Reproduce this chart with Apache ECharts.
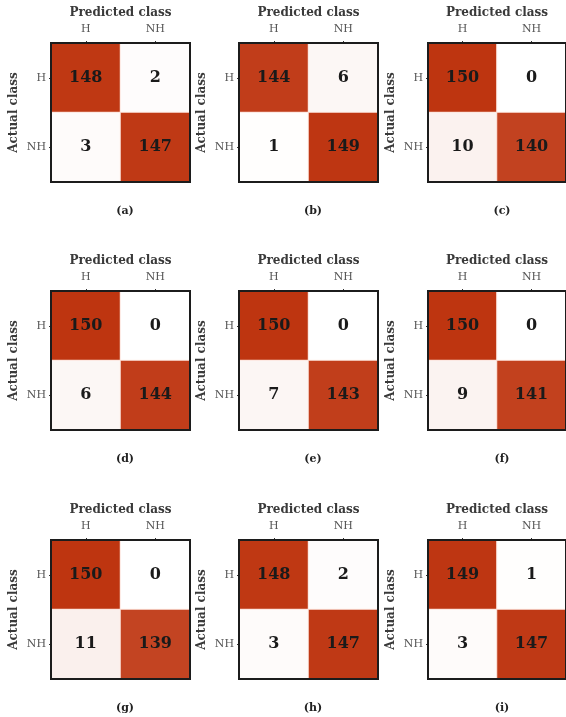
<!DOCTYPE html>
<html>
<head>
<meta charset="utf-8">
<script src="https://cdn.jsdelivr.net/npm/echarts@6/dist/echarts.min.js"></script>
<style>
  html, body { margin: 0; padding: 0; background: #fff; }
  #main { width: 566px; height: 717px; }
</style>
</head>
<body>
<div id="main"></div>
<script>
// classes and confusion matrices, rows = actual, cols = predicted
const classes = ['H', 'NH'];
const panelLabels = ['(a)', '(b)', '(c)', '(d)', '(e)', '(f)', '(g)', '(h)', '(i)'];
const cmA = [[148, 2], [3, 147]];
const cmB = [[144, 6], [1, 149]];
const cmC = [[150, 0], [10, 140]];
const cmD = [[150, 0], [6, 144]];
const cmE = [[150, 0], [7, 143]];
const cmF = [[150, 0], [9, 141]];
const cmG = [[150, 0], [11, 139]];
const cmH = [[148, 2], [3, 147]];
const cmI = [[149, 1], [3, 147]];
const matrices = [cmA, cmB, cmC, cmD, cmE, cmF, cmG, cmH, cmI];

const serif = '"DejaVu Serif", "Liberation Serif", serif';
const colLefts = [51, 239, 428];
const rowTops = [43, 291, 540];
const boxW = 139, boxH = 139;

const chart = echarts.init(document.getElementById('main'));

const grids = [], xAxes = [], yAxes = [], series = [], titles = [];

matrices.forEach((m, i) => {
    const left = colLefts[i % 3];
    const top = rowTops[Math.floor(i / 3)];
    grids.push({
        left: left, top: top, width: boxW, height: boxH,
        show: true, borderColor: '#1c1c1c', borderWidth: 2, z: 10,
        backgroundColor: 'transparent'
    });
    xAxes.push({
        type: 'category', gridIndex: i, data: classes, position: 'top',
        name: 'Predicted class', nameLocation: 'middle', nameGap: 24,
        nameTextStyle: { fontFamily: serif, fontWeight: 'bold', fontSize: 12, color: '#3a3a3a' },
        axisLine: { show: false },
        axisTick: { show: true, alignWithLabel: true, length: 2, lineStyle: { color: '#333' } },
        axisLabel: { fontFamily: serif, fontSize: 11, color: '#555', margin: 8 },
        splitLine: { show: false }
    });
    yAxes.push({
        type: 'category', gridIndex: i, data: classes, inverse: true,
        name: 'Actual class', nameLocation: 'middle', nameGap: 31, nameRotate: 90,
        nameTextStyle: { fontFamily: serif, fontWeight: 'bold', fontSize: 12, color: '#3a3a3a' },
        axisLine: { show: false },
        axisTick: { show: true, alignWithLabel: true, length: 2, lineStyle: { color: '#333' } },
        axisLabel: { fontFamily: serif, fontSize: 11, color: '#555', margin: 5 },
        splitLine: { show: false }
    });
    const data = [];
    m.forEach((row, r) => row.forEach((v, c) => data.push([c, r, v])));
    series.push({
        type: 'heatmap', xAxisIndex: i, yAxisIndex: i, data: data,
        itemStyle: { borderColor: 'rgba(255,235,228,0.9)', borderWidth: 1 },
        label: {
            show: true, fontFamily: serif, fontWeight: 'bold', fontSize: 16, color: '#1a1a1a'
        },
        emphasis: { disabled: true }
    });
    titles.push({
        text: panelLabels[i],
        left: left + boxW / 2 - 0.5, top: top + 158,
        textAlign: 'center',
        textStyle: { fontFamily: serif, fontWeight: 'bold', fontSize: 11, color: '#222' }
    });
});

chart.setOption({
    animation: false,
    title: titles,
    grid: grids,
    xAxis: xAxes,
    yAxis: yAxes,
    visualMap: {
        show: false, min: 0, max: 150, dimension: 2,
        seriesIndex: series.map((_, i) => i),
        inRange: { color: ['#ffffff', '#be3510'] }
    },
    series: series
});
</script>
</body>
</html>
